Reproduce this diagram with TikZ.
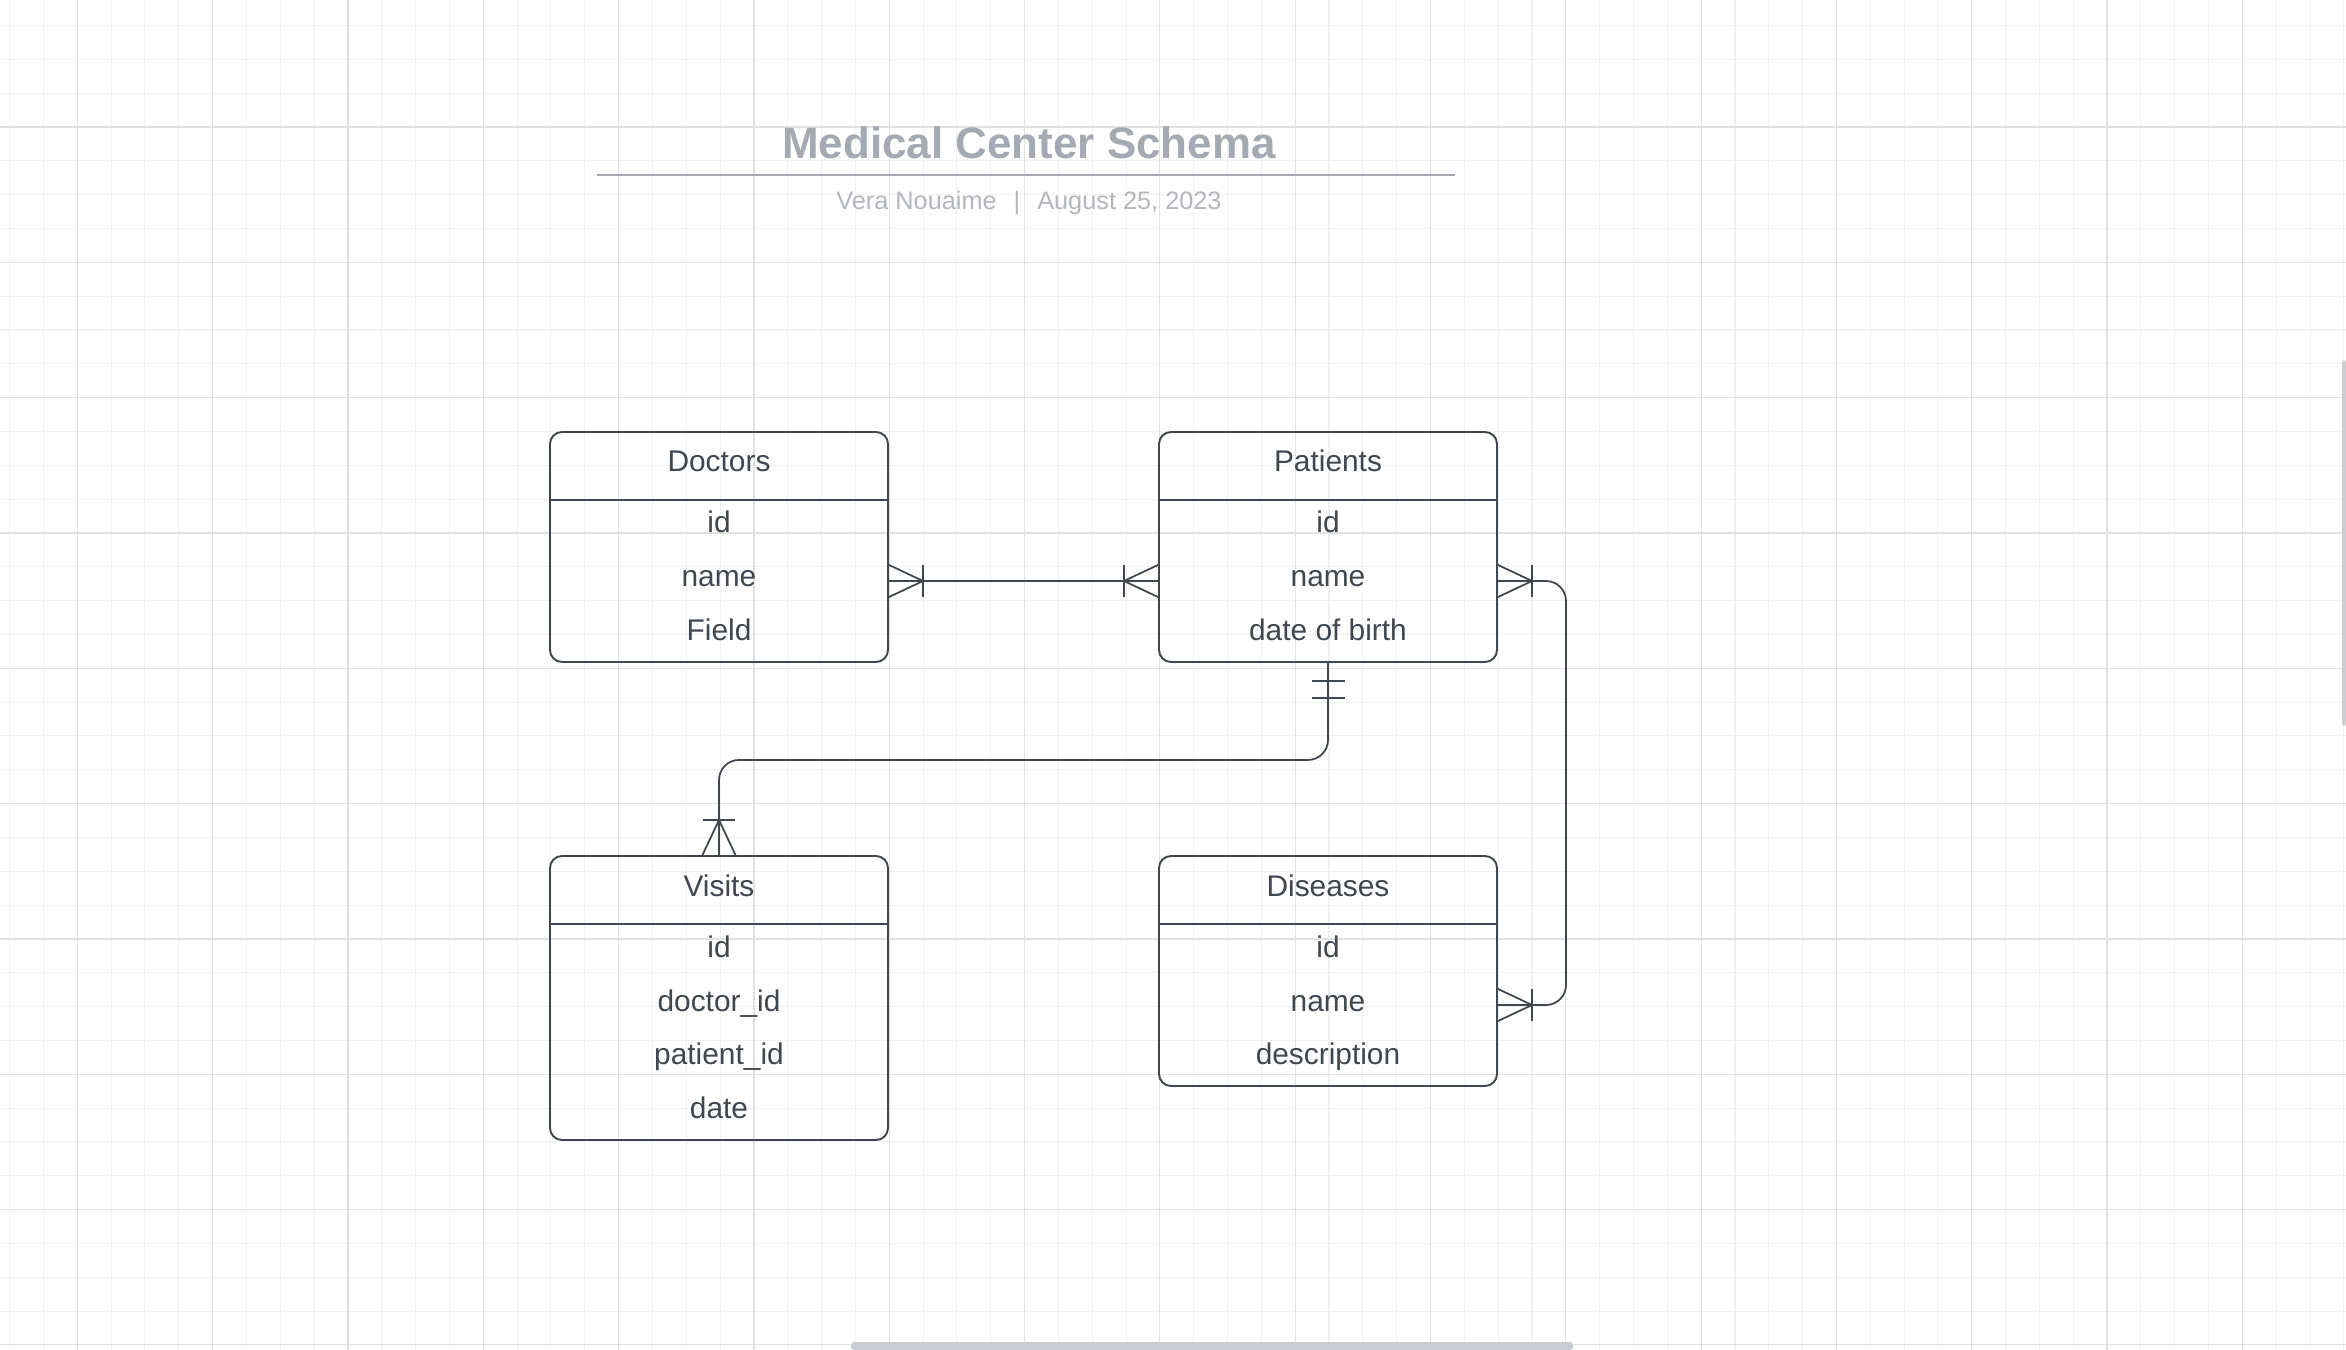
\documentclass[tikz,border=0pt]{standalone}
\usepackage{fontspec}
\setmainfont{Liberation Sans}
\usetikzlibrary{positioning,fit}

\definecolor{inkgray}{HTML}{41474F}
\definecolor{titlegray}{HTML}{A5A9B1}
\definecolor{subgray}{HTML}{B3B6BC}
\definecolor{gridminor}{HTML}{F1F1F1}
\definecolor{gridmajor}{HTML}{E1E1E1}
\definecolor{barfill}{HTML}{C9CCD1}

\tikzset{
  headcell/.style={minimum width=3.38cm, minimum height=0.68cm, inner sep=0pt, outer sep=0pt,
    text height=0.2cm, text depth=0.08cm, text=inkgray, font=\fontsize{8.5}{10}\selectfont},
  rowcell/.style={headcell, minimum height=0.54cm},
  tablebox/.style={draw=inkgray, line width=0.55pt, rounded corners=1.2mm, inner sep=0pt},
  relline/.style={draw=inkgray, line width=0.5pt},
  minorline/.style={draw=gridminor, line width=0.3pt},
  majorline/.style={draw=gridmajor, line width=0.35pt},
  crowfoot/.pic={
    \draw[relline] (0,1.65mm) -- (3.5mm,0) -- (0,-1.65mm);
    \draw[relline] (3.5mm,1.6mm) -- (3.5mm,-1.6mm);
  },
  onebar/.pic={
    \draw[relline] (1.8mm,1.65mm) -- (1.8mm,-1.65mm);
    \draw[relline] (3.5mm,1.65mm) -- (3.5mm,-1.65mm);
  }
}

\begin{document}
\begin{tikzpicture}[x=0.1mm, y=0.1mm]
		\useasboundingbox (0,0) rectangle (2346,-1350);
		\fill[white] (0,0) rectangle (2346,-1350);
		% grid
		\foreach \k in {-2,...,67}
			\draw[minorline] ({77.3+33.83*\k},0) -- ({77.3+33.83*\k},-1350);
		\foreach \k in {-3,...,36}
			\draw[minorline] (0,{-127-33.83*\k}) -- (2346,{-127-33.83*\k});
		\foreach \k in {0,...,16}
			\draw[majorline] ({77.3+135.32*\k},0) -- ({77.3+135.32*\k},-1350);
		\foreach \k in {0,...,9}
			\draw[majorline] (0,{-127-135.32*\k}) -- (2346,{-127-135.32*\k});

		% title block
		\node[anchor=base, text=titlegray, font=\fontsize{12.5}{15}\selectfont\bfseries] (title) at (1029,-159) {Medical Center Schema};
		\draw[titlegray, line width=0.8pt] (597,-175) -- (1455,-175);
		\node[anchor=base, text=subgray, font=\fontsize{7.2}{9}\selectfont] (byline) at (1029,-209.3) {Vera Nouaime\hspace{1.7mm}|\hspace{1.7mm}August 25, 2023};

		% Doctors
		\node[headcell] (doctors-head) at (719,-466) {Doctors};
		\node[rowcell, below=0pt of doctors-head] (doctors-id) {id};
		\node[rowcell, below=0pt of doctors-id] (doctors-name) {name};
		\node[rowcell, below=0pt of doctors-name] (doctors-field) {Field};
		\node[tablebox, fit=(doctors-head)(doctors-field)] (doctors) {};
		\draw[tablebox] (doctors-head.south west) -- (doctors-head.south east);

		% Patients
		\node[headcell] (patients-head) at (1328,-466) {Patients};
		\node[rowcell, below=0pt of patients-head] (patients-id) {id};
		\node[rowcell, below=0pt of patients-id] (patients-name) {name};
		\node[rowcell, below=0pt of patients-name] (patients-birth) {date of birth};
		\node[tablebox, fit=(patients-head)(patients-birth)] (patients) {};
		\draw[tablebox] (patients-head.south west) -- (patients-head.south east);

		% Visits
		\node[headcell] (visits-head) at (719,-890) {Visits};
		\node[rowcell, below=0pt of visits-head] (visits-id) {id};
		\node[rowcell, below=0pt of visits-id] (visits-doctor) {doctor\_id};
		\node[rowcell, below=0pt of visits-doctor] (visits-patient) {patient\_id};
		\node[rowcell, below=0pt of visits-patient] (visits-date) {date};
		\node[tablebox, fit=(visits-head)(visits-date)] (visits) {};
		\draw[tablebox] (visits-head.south west) -- (visits-head.south east);

		% Diseases
		\node[headcell] (diseases-head) at (1328,-890) {Diseases};
		\node[rowcell, below=0pt of diseases-head] (diseases-id) {id};
		\node[rowcell, below=0pt of diseases-id] (diseases-name) {name};
		\node[rowcell, below=0pt of diseases-name] (diseases-desc) {description};
		\node[tablebox, fit=(diseases-head)(diseases-desc)] (diseases) {};
		\draw[tablebox] (diseases-head.south west) -- (diseases-head.south east);

		% relations
		\draw[relline] (doctors-name.east) -- (patients-name.west);
		\pic at (doctors-name.east) {crowfoot};
		\pic[rotate=180] at (patients-name.west) {crowfoot};

		\draw[relline, rounded corners=2mm] (patients-name.east) -- ++(69,0) |- (diseases-name.east);
		\pic at (patients-name.east) {crowfoot};
		\pic at (diseases-name.east) {crowfoot};

		\draw[relline, rounded corners=2mm] (patients.south) -- ++(0,-97) -| (visits.north);
		\pic[rotate=-90] at (patients.south) {onebar};
		\pic[rotate=90] at (visits.north) {crowfoot};

		% scroll bars of the canvas
		\fill[barfill, rounded corners=0.3mm] (2342,-360) rectangle (2346,-726);
		\fill[barfill, rounded corners=0.3mm] (851,-1342) rectangle (1573,-1350);
\end{tikzpicture}
\end{document}
